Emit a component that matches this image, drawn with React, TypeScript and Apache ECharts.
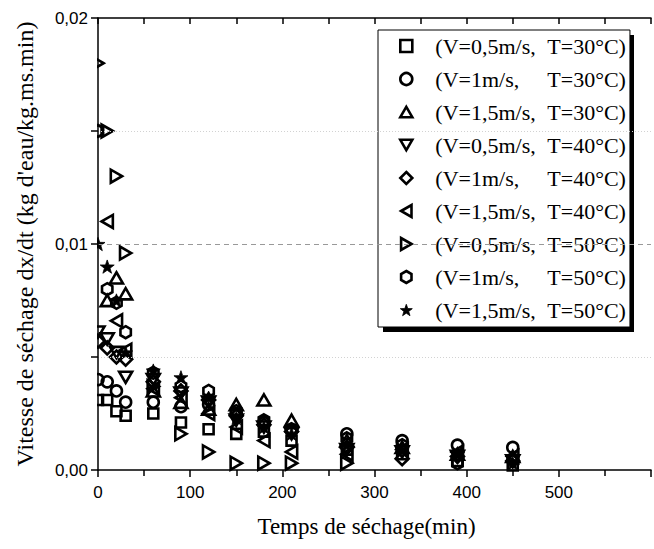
import React, { useEffect, useRef } from "react";
import * as echarts from "echarts";

const times = [0, 10, 20, 30, 60, 90, 120, 150, 180, 210, 270, 330, 390, 450];

const seriesNames = [
  "(V=0,5m/s, T=30°C)",
  "(V=1m/s, T=30°C)",
  "(V=1,5m/s, T=30°C)",
  "(V=0,5m/s, T=40°C)",
  "(V=1m/s, T=40°C)",
  "(V=1,5m/s, T=40°C)",
  "(V=0,5m/s, T=50°C)",
  "(V=1m/s, T=50°C)",
  "(V=1,5m/s, T=50°C)",
];
const legendLeft = ["(V=0,5m/s,", "(V=1m/s,", "(V=1,5m/s,", "(V=0,5m/s,", "(V=1m/s,", "(V=1,5m/s,", "(V=0,5m/s,", "(V=1m/s,", "(V=1,5m/s,"];
const legendRight = ["T=30°C)", "T=30°C)", "T=30°C)", "T=40°C)", "T=40°C)", "T=40°C)", "T=50°C)", "T=50°C)", "T=50°C)"];

const v05t30 = [0.0031, 0.0031, 0.0026, 0.0024, 0.0025, 0.0021, 0.0018, 0.0016, 0.0017, 0.0013, 0.0009, 0.0007, 0.0004, 0.0002];
const v1t30 = [0.0040, 0.0039, 0.0035, 0.0030, 0.0030, 0.0028, 0.0029, 0.0025, 0.0021, 0.0018, 0.0016, 0.0013, 0.0011, 0.0010];
const v15t30 = [null, 0.0075, 0.0085, 0.0078, 0.0035, 0.0030, 0.0027, 0.0029, 0.0031, 0.0022, 0.0013, 0.0010, 0.0007, 0.0006];
const v05t40 = [0.0061, 0.0058, 0.0052, 0.0041, 0.0040, 0.0034, 0.0030, 0.0022, 0.0019, 0.0016, 0.0009, 0.0008, 0.0006, 0.0004];
const v1t40 = [0.0057, 0.0054, 0.0050, 0.0049, 0.0039, 0.0035, 0.0031, 0.0024, 0.0020, 0.0017, 0.0010, 0.0005, 0.0006, 0.0004];
const v15t40 = [null, 0.0110, 0.0066, 0.0053, 0.0036, 0.0032, 0.0025, 0.0019, 0.0013, 0.0008, 0.0007, 0.0009, 0.0008, 0.0006];
const v05t50 = [0.0180, 0.0150, 0.0130, 0.0096, 0.0037, 0.0016, 0.0008, 0.0003, 0.0003, 0.0003, 0.0003, null, null, null];
const v1t50 = [0.0150, 0.0080, 0.0074, 0.0061, 0.0043, 0.0037, 0.0035, 0.0026, 0.0022, 0.0018, 0.0014, 0.0011, 0.0003, 0.0005];
const v15t50 = [0.0100, 0.0090, 0.0075, 0.0052, 0.0044, 0.0041, 0.0032, 0.0023, 0.0019, 0.0016, 0.0011, 0.0009, 0.0007, 0.0003];

const allValues = [v05t30, v1t30, v15t30, v05t40, v1t40, v15t40, v05t50, v1t50, v15t50];

const gridDashed = [0.01];

const HEX = "path://M0,-10 L8.66,-5 L8.66,5 L0,10 L-8.66,5 L-8.66,-5 Z";
const STAR =
  "path://M0,-10 L2.35,-3.24 L9.51,-3.09 L3.8,1.24 L5.88,8.09 L0,4 L-5.88,8.09 L-3.8,1.24 L-9.51,-3.09 L-2.35,-3.24 Z";
const TRI_DOWN = "path://M-10,-8.66 L10,-8.66 L0,8.66 Z";
const TRI_LEFT = "path://M-8.66,0 L8.66,-10 L8.66,10 Z";
const TRI_RIGHT = "path://M8.66,0 L-8.66,-10 L-8.66,10 Z";
const TRI_UP = "path://M0,-8.66 L10,8.66 L-10,8.66 Z";

const symbolDefs = [
  { symbol: "rect", size: 10, filled: false },
  { symbol: "circle", size: 11, filled: false },
  { symbol: TRI_UP, size: 13, filled: false },
  { symbol: TRI_DOWN, size: 13, filled: false },
  { symbol: "diamond", size: 13, filled: false },
  { symbol: TRI_LEFT, size: 13, filled: false },
  { symbol: TRI_RIGHT, size: 13, filled: false },
  { symbol: HEX, size: 12, filled: false },
  { symbol: STAR, size: 14, filled: true },
];

const SERIF = "'Liberation Serif', 'DejaVu Serif', serif";
const SANS = "'Liberation Sans', Arial, sans-serif";
const STROKE = 2.6;

export default function App() {
  const ref = useRef<HTMLDivElement>(null);
  useEffect(() => {
    if (!ref.current) return;
    const chart = echarts.init(ref.current, null, { renderer: "svg" });

    const styleFor = (i: number) => {
      const d = symbolDefs[i];
      return {
        color: d.filled ? "#000" : "rgba(0,0,0,0)",
        borderColor: "#000",
        borderWidth: d.filled ? 0.8 : STROKE,
        opacity: 1,
      };
    };

    const series: any[] = allValues.map((vals, i) => {
      const d = symbolDefs[i];
      const data: any[] = [];
      vals.forEach((v, j) => {
        if (v !== null) data.push([times[j], v]);
      });
      return {
        name: seriesNames[i],
        type: "scatter",
        data,
        symbol: d.symbol,
        symbolSize: d.size,
        symbolKeepAspect: true,
        itemStyle: styleFor(i),
        emphasis: { disabled: true },
        z: 2,
      };
    });

    series.push({
      type: "scatter",
      data: [],
      silent: true,
      markLine: {
        silent: true,
        symbol: "none",
        label: { show: false },
        animation: false,
        data: gridDashed.map((v) => ({ yAxis: v, lineStyle: { color: "#999", type: [5, 4], width: 1 } })),
      },
      z: 1,
    });

    chart.setOption({
      animation: false,
      backgroundColor: "#fff",
      grid: { left: 98, top: 18, width: 560, height: 452, containLabel: false },
      xAxis: [
        {
          type: "value",
          position: "bottom",
          min: 0,
          max: 600,
          interval: 100,
          z: 10,
          axisLine: { show: true, onZero: false, lineStyle: { color: "#000", width: 1.5 } },
          axisTick: { show: true, inside: false, length: 7, lineStyle: { color: "#000", width: 1.5 } },
          minorTick: { show: true, splitNumber: 2, length: 6, lineStyle: { color: "#000", width: 1.5 } },
          axisLabel: {
            margin: 14,
            fontSize: 17,
            fontFamily: SANS,
            color: "#000",
            formatter: (v: number) => (v <= 500 ? String(v) : ""),
          },
          splitLine: { show: false },
          minorSplitLine: { show: false },
          name: "Temps de séchage(min)",
          nameLocation: "middle",
          nameGap: 45,
          nameTextStyle: { fontSize: 23, fontFamily: SERIF, color: "#000", padding: [0, 16, 0, 0] },
        },
        {
          type: "value",
          position: "top",
          min: 0,
          max: 600,
          interval: 50,
          z: 10,
          axisLine: { show: true, onZero: false, lineStyle: { color: "#000", width: 1.5 } },
          axisTick: { show: true, inside: true, length: 6, lineStyle: { color: "#000", width: 1.5 } },
          axisLabel: { show: false },
          splitLine: { show: false },
        },
      ],
      yAxis: {
        type: "value",
        min: 0,
        max: 0.02,
        interval: 0.01,
        z: 10,
        axisLine: { show: true, onZero: false, lineStyle: { color: "#000", width: 1.5 } },
        axisTick: { show: true, inside: false, length: 7, lineStyle: { color: "#000", width: 1.5 } },
        minorTick: { show: true, splitNumber: 2, length: 7, lineStyle: { color: "#000", width: 1.5 } },
        minorSplitLine: { show: true, lineStyle: { color: "#d2d2d2", type: [1, 2], width: 1 } },
        axisLabel: {
          margin: 10,
          fontSize: 17,
          fontFamily: SANS,
          color: "#000",
          formatter: (v: number) => v.toFixed(2).replace(".", ","),
        },
        splitLine: { show: false },
        name: "Vitesse de séchage dx/dt (kg d'eau/kg.ms.min)",
        nameLocation: "middle",
        nameGap: 61,
        nameTextStyle: { fontSize: 24, fontFamily: SERIF, color: "#000" },
      },
      legend: {
        show: true,
        orient: "vertical",
        left: 378,
        top: 30,
        z: 5,
        padding: [4, 4, 5, 21],
        itemGap: 9,
        itemWidth: 12,
        itemHeight: 12,
        selectedMode: false,
        backgroundColor: "#fff",
        borderColor: "#000",
        borderWidth: 1,
        data: seriesNames.map((n, i) => ({ name: n, itemStyle: styleFor(i) })),
        formatter: (name: string) => {
          const i = seriesNames.indexOf(name);
          return `{a|${legendLeft[i]}}{b|${legendRight[i]}}`;
        },
        textStyle: {
          fontSize: 22,
          lineHeight: 24,
          fontFamily: SERIF,
          color: "#000",
          padding: [0, 0, 0, 18],
          rich: {
            a: { width: 112, fontSize: 22, lineHeight: 24, fontFamily: SERIF, color: "#000" },
            b: { fontSize: 22, lineHeight: 24, fontFamily: SERIF, color: "#000" },
          },
        },
      },
      graphic: [
        {
          type: "rect",
          left: 0,
          top: 0,
          shape: { width: 97, height: 480 },
          style: { fill: "#fff" },
          z: 3,
          silent: true,
        },
        {
          type: "rect",
          left: 383,
          top: 35,
          shape: { width: 251, height: 297 },
          style: { fill: "#000" },
          z: 4,
          silent: true,
        },
      ],
      series,
    });
    return () => chart.dispose();
  }, []);
  return <div ref={ref} style={{ position: "fixed", left: 0, top: 0, width: 654, height: 549 }} />;
}
